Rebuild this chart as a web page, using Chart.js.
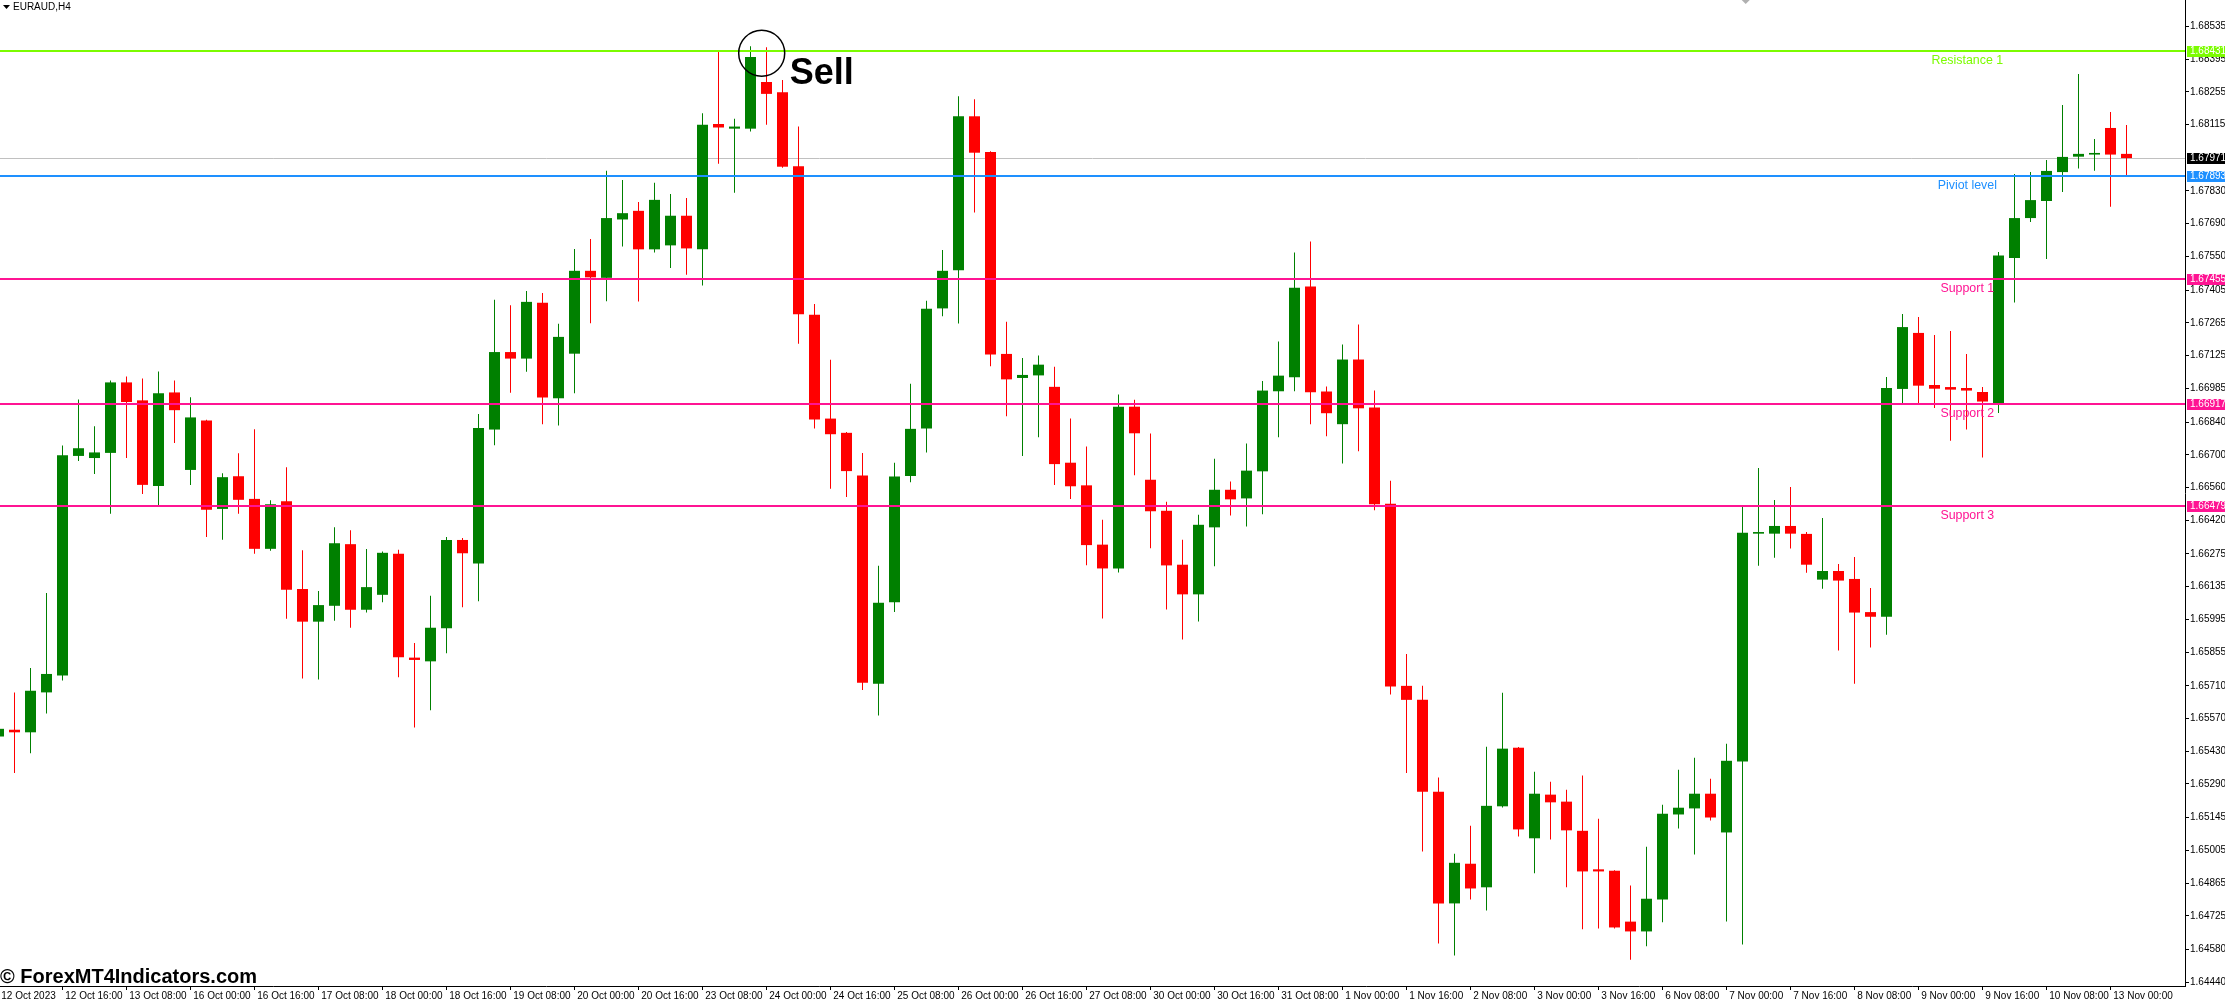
<!DOCTYPE html>
<html>
<head>
<meta charset="utf-8">
<script src="https://cdn.jsdelivr.net/npm/chart.js@4.4.0/dist/chart.umd.min.js"></script>
<style>
  html, body { margin: 0; padding: 0; background: #fff; overflow: hidden; }
  canvas { display: block; }
</style>
</head>
<body>
<canvas id="chart" width="2225" height="1002"></canvas>
<script>
// EURAUD H4 candles, bar 0 = 12 Oct 2023 00:00
const openP = [
  1.65493, 1.65522, 1.65511, 1.65682, 1.65754, 1.66695, 1.66686, 1.66708, 1.67010, 1.66933,
  1.66566, 1.66967, 1.66635, 1.66847, 1.66468, 1.66608, 1.66511, 1.66297, 1.66501, 1.66125,
  1.65985, 1.66053, 1.66317, 1.66036, 1.66100, 1.66276, 1.65831, 1.65815, 1.65957, 1.66335,
  1.66234, 1.66808, 1.67140, 1.67112, 1.67351, 1.66942, 1.67133, 1.67488, 1.67458, 1.67708,
  1.67745, 1.67580, 1.67597, 1.67724, 1.67580, 1.68117, 1.68097, 1.68097, 1.68297, 1.68253,
  1.67936, 1.67300, 1.66855, 1.66794, 1.66611, 1.65719, 1.66068, 1.66609, 1.66813, 1.67327,
  1.67490, 1.68150, 1.67997, 1.67132, 1.67029, 1.67040, 1.66991, 1.66666, 1.66569, 1.66315,
  1.66213, 1.66906, 1.66593, 1.66460, 1.66229, 1.66102, 1.66389, 1.66550, 1.66513, 1.66629,
  1.66972, 1.67032, 1.67421, 1.66971, 1.66831, 1.67108, 1.66902, 1.66490, 1.65710, 1.65650,
  1.65256, 1.64778, 1.64948, 1.64847, 1.65194, 1.65445, 1.65057, 1.65244, 1.65214, 1.65089,
  1.64924, 1.64918, 1.64700, 1.64658, 1.64795, 1.65159, 1.65185, 1.65248, 1.65082, 1.65386,
  1.66362, 1.66362, 1.66395, 1.66361, 1.66165, 1.66202, 1.66168, 1.66026, 1.66006, 1.66982,
  1.67222, 1.66999, 1.66990, 1.66986, 1.66969, 1.66922, 1.67543, 1.67714, 1.67787, 1.67911,
  1.67977, 1.67986, 1.68100, 1.67989
];
const highP = [
  1.65543, 1.65682, 1.65787, 1.66108, 1.66740, 1.66937, 1.66822, 1.67018, 1.67035, 1.67027,
  1.67057, 1.67018, 1.66946, 1.66850, 1.66621, 1.66706, 1.66809, 1.66505, 1.66646, 1.66291,
  1.66116, 1.66390, 1.66377, 1.66296, 1.66286, 1.66293, 1.65894, 1.66096, 1.66348, 1.66343,
  1.66875, 1.67364, 1.67341, 1.67402, 1.67393, 1.67261, 1.67582, 1.67624, 1.67917, 1.67877,
  1.67783, 1.67865, 1.67817, 1.67800, 1.68163, 1.68425, 1.68139, 1.68450, 1.68446, 1.68305,
  1.68106, 1.67346, 1.67107, 1.66797, 1.66708, 1.66225, 1.66666, 1.67004, 1.67360, 1.67577,
  1.68236, 1.68223, 1.68000, 1.67270, 1.67115, 1.67125, 1.67077, 1.66855, 1.66735, 1.66422,
  1.66958, 1.66936, 1.66791, 1.66499, 1.66336, 1.66443, 1.66683, 1.66585, 1.66748, 1.67016,
  1.67185, 1.67566, 1.67614, 1.66992, 1.67172, 1.67258, 1.66975, 1.66589, 1.65847, 1.65710,
  1.65317, 1.64991, 1.65111, 1.65449, 1.65681, 1.65448, 1.65342, 1.65299, 1.65265, 1.65326,
  1.65141, 1.64920, 1.64855, 1.65021, 1.65201, 1.65351, 1.65402, 1.65312, 1.65462, 1.66476,
  1.66643, 1.66506, 1.66562, 1.66369, 1.66429, 1.66232, 1.66262, 1.66129, 1.67033, 1.67303,
  1.67290, 1.67213, 1.67230, 1.67132, 1.66990, 1.67569, 1.67903, 1.67911, 1.67963, 1.68198,
  1.68331, 1.68053, 1.68168, 1.68113
];
const lowP = [
  1.65472, 1.65337, 1.65421, 1.65592, 1.65733, 1.66673, 1.66618, 1.66447, 1.66686, 1.66532,
  1.66481, 1.66750, 1.66571, 1.66348, 1.66336, 1.66447, 1.66276, 1.66289, 1.65998, 1.65741,
  1.65737, 1.65989, 1.65959, 1.66024, 1.66068, 1.65747, 1.65532, 1.65605, 1.65850, 1.66047,
  1.66072, 1.66741, 1.66966, 1.67056, 1.66831, 1.66825, 1.66963, 1.67263, 1.67358, 1.67592,
  1.67357, 1.67567, 1.67500, 1.67471, 1.67425, 1.67947, 1.67822, 1.68085, 1.68114, 1.67930,
  1.67176, 1.66813, 1.66554, 1.66519, 1.65692, 1.65583, 1.66026, 1.66582, 1.66710, 1.67293,
  1.67262, 1.67738, 1.67079, 1.66865, 1.66695, 1.66775, 1.66571, 1.66510, 1.66227, 1.65999,
  1.66196, 1.66612, 1.66299, 1.66037, 1.65909, 1.65986, 1.66222, 1.66440, 1.66393, 1.66445,
  1.66775, 1.66972, 1.66831, 1.66779, 1.66663, 1.66715, 1.66462, 1.65673, 1.65337, 1.65000,
  1.64606, 1.64555, 1.64795, 1.64748, 1.65189, 1.65065, 1.64907, 1.65052, 1.64847, 1.64667,
  1.64671, 1.64671, 1.64537, 1.64594, 1.64697, 1.65099, 1.64988, 1.65133, 1.64701, 1.64602,
  1.66225, 1.66259, 1.66298, 1.66195, 1.66126, 1.65861, 1.65719, 1.65874, 1.65929, 1.66922,
  1.66922, 1.66900, 1.66760, 1.66808, 1.66688, 1.66879, 1.67352, 1.67697, 1.67539, 1.67826,
  1.67926, 1.67917, 1.67763, 1.67896
];
const closeP = [
  1.65526, 1.65511, 1.65689, 1.65761, 1.66698, 1.66728, 1.66710, 1.67010, 1.66926, 1.66571,
  1.66963, 1.66891, 1.66860, 1.66464, 1.66604, 1.66507, 1.66297, 1.66488, 1.66122, 1.65985,
  1.66056, 1.66321, 1.66036, 1.66133, 1.66280, 1.65833, 1.65821, 1.65959, 1.66335, 1.66278,
  1.66815, 1.67140, 1.67112, 1.67355, 1.66945, 1.67205, 1.67488, 1.67460, 1.67714, 1.67735,
  1.67580, 1.67792, 1.67724, 1.67584, 1.68114, 1.68102, 1.68106, 1.68404, 1.68246, 1.67934,
  1.67302, 1.66851, 1.66788, 1.66630, 1.65723, 1.66066, 1.66607, 1.66811, 1.67325, 1.67488,
  1.68150, 1.67994, 1.67130, 1.67023, 1.67042, 1.67086, 1.66660, 1.66565, 1.66313, 1.66213,
  1.66906, 1.66792, 1.66458, 1.66226, 1.66102, 1.66400, 1.66550, 1.66509, 1.66632, 1.66975,
  1.67039, 1.67416, 1.66968, 1.66878, 1.67108, 1.66899, 1.66488, 1.65707, 1.65650, 1.65256,
  1.64778, 1.64952, 1.64842, 1.65196, 1.65441, 1.65095, 1.65248, 1.65211, 1.65091, 1.64915,
  1.64915, 1.64675, 1.64658, 1.64798, 1.65162, 1.65188, 1.65248, 1.65146, 1.65389, 1.66366,
  1.66369, 1.66395, 1.66362, 1.66229, 1.66202, 1.66161, 1.66024, 1.66006, 1.66986, 1.67247,
  1.66996, 1.66983, 1.66979, 1.66975, 1.66928, 1.67554, 1.67714, 1.67791, 1.67916, 1.67976,
  1.67989, 1.67993, 1.67986, 1.67971
];

// time axis labels, one every 4 bars
const tickBars = [0, 4, 8, 12, 16, 20, 24, 28, 32, 36, 40, 44, 48, 52, 56, 60, 64,
  68, 72, 76, 80, 84, 88, 92, 96, 100, 104, 108, 112, 116, 120, 124, 128, 132];
const tickDates = ['12 Oct 2023', '12 Oct 16:00', '13 Oct 08:00', '16 Oct 00:00', '16 Oct 16:00',
  '17 Oct 08:00', '18 Oct 00:00', '18 Oct 16:00', '19 Oct 08:00', '20 Oct 00:00', '20 Oct 16:00',
  '23 Oct 08:00', '24 Oct 00:00', '24 Oct 16:00', '25 Oct 08:00', '26 Oct 00:00', '26 Oct 16:00',
  '27 Oct 08:00', '30 Oct 00:00', '30 Oct 16:00', '31 Oct 08:00', '1 Nov 00:00', '1 Nov 16:00',
  '2 Nov 08:00', '3 Nov 00:00', '3 Nov 16:00', '6 Nov 08:00', '7 Nov 00:00', '7 Nov 16:00',
  '8 Nov 08:00', '9 Nov 00:00', '9 Nov 16:00', '10 Nov 08:00', '13 Nov 00:00'];

const priceTicks = [1.68535, 1.68395, 1.68255, 1.68115, 1.67830, 1.67690, 1.67550, 1.67405,
  1.67265, 1.67125, 1.66985, 1.66840, 1.66700, 1.66560, 1.66420, 1.66275, 1.66135, 1.65995,
  1.65855, 1.65710, 1.65570, 1.65430, 1.65290, 1.65145, 1.65005, 1.64865, 1.64725, 1.64580,
  1.64440];

const levelNames = ['Resistance 1', 'Piviot level', 'Support 1', 'Support 2', 'Support 3'];
const levelValues = [1.68431, 1.67893, 1.67455, 1.66917, 1.66479];
const lastPrice = 1.67971;

const FONT = '"Liberation Sans", Arial, sans-serif';
const levelColors = ['#7cfc00', '#1e90ff', '#ff1493', '#ff1493', '#ff1493'];
const UP = '#008000', DOWN = '#ff0000';

const candleColor = openP.map((o, i) => closeP[i] >= o ? UP : DOWN);
const bodies = openP.map((o, i) => ({ x: i, y: [o, closeP[i]] }));
const wicks = lowP.map((l, i) => ({ x: i, y: [l, highP[i]] }));

const xMin = 0.09375;
const xMax = xMin + 2185 / 16;

function noPad(s) {
  s.paddingLeft = 0;
  s.paddingRight = 0;
  s.paddingTop = 0;
  s.paddingBottom = 0;
}

const overlay = {
  id: 'overlay',
  beforeDatasetsDraw(chart) {
    const { ctx, chartArea: a, scales: { y } } = chart;
    const py = Math.round(y.getPixelForValue(lastPrice)) + 0.5;
    ctx.save();
    ctx.strokeStyle = '#c0c0c0';
    ctx.lineWidth = 1;
    ctx.beginPath();
    ctx.moveTo(a.left, py);
    ctx.lineTo(a.right, py);
    ctx.stroke();
    ctx.restore();
  },
  afterDatasetsDraw(chart) {
    const { ctx, chartArea: a, scales: { x, y } } = chart;
    ctx.save();
    levelValues.forEach((v, i) => {
      const py = Math.round(y.getPixelForValue(v));
      ctx.fillStyle = levelColors[i];
      ctx.fillRect(a.left, py - 1, a.right - a.left, 2);
      ctx.font = '12.4px ' + FONT;
      ctx.textAlign = 'center';
      ctx.textBaseline = 'alphabetic';
      ctx.fillText(levelNames[i], x.getPixelForValue(123.05), py + 13);
    });

    // sell mark on the top candle
    const cx = x.getPixelForValue(47.7);
    const cy = y.getPixelForValue(1.68420);
    ctx.strokeStyle = '#000';
    ctx.lineWidth = 1.5;
    ctx.beginPath();
    ctx.arc(cx, cy, 23, 0, Math.PI * 2);
    ctx.stroke();
    ctx.fillStyle = '#000';
    ctx.font = 'bold 36px ' + FONT;
    ctx.textAlign = 'left';
    ctx.fillText('Sell', cx + 28, cy + 31);
    ctx.restore();
  },
  afterDraw(chart) {
    const { ctx, chartArea: a, scales: { x, y } } = chart;
    ctx.save();
    // price tags on the right scale
    const tags = levelValues.map((v, i) => [v, levelColors[i]]).concat([[lastPrice, '#000']]);
    ctx.font = '10px ' + FONT;
    ctx.textAlign = 'left';
    ctx.textBaseline = 'middle';
    tags.forEach(([v, c]) => {
      const py = Math.round(y.getPixelForValue(v));
      ctx.fillStyle = c;
      ctx.fillRect(a.right + 2, py - 5, chart.width - a.right - 2, 11);
      ctx.fillStyle = '#fff';
      ctx.fillText(v.toFixed(5), a.right + 5, py + 0.5);
    });

    // symbol title
    ctx.fillStyle = '#000';
    ctx.beginPath();
    ctx.moveTo(3, 5);
    ctx.lineTo(10, 5);
    ctx.lineTo(6.5, 9);
    ctx.closePath();
    ctx.fill();
    ctx.font = '10px ' + FONT;
    ctx.fillText('EURAUD,H4', 13, 7.5);

    // chart shift marker
    const sx = x.getPixelForValue(109.2);
    ctx.fillStyle = '#b0b0b0';
    ctx.beginPath();
    ctx.moveTo(sx - 4, 0);
    ctx.lineTo(sx + 4, 0);
    ctx.lineTo(sx, 4);
    ctx.closePath();
    ctx.fill();

    // watermark
    ctx.fillStyle = '#000';
    ctx.font = 'bold 20px ' + FONT;
    ctx.textBaseline = 'alphabetic';
    ctx.fillText('\u00a9 ForexMT4Indicators.com', 0, 983);
    ctx.restore();
  }
};

new Chart(document.getElementById('chart').getContext('2d'), {
  type: 'bar',
  data: {
    datasets: [{
      label: 'body',
      data: bodies,
      backgroundColor: candleColor,
      grouped: false,
      barPercentage: 1,
      categoryPercentage: 1,
      maxBarThickness: 11,
      borderWidth: 0,
      inflateAmount: 0
    }, {
      label: 'wick',
      data: wicks,
      backgroundColor: candleColor,
      grouped: false,
      barPercentage: 1,
      categoryPercentage: 1,
      maxBarThickness: 1,
      borderWidth: 0,
      inflateAmount: 0
    }]
  },
  options: {
    responsive: false,
    devicePixelRatio: 1,
    animation: false,
    layout: { padding: 0, autoPadding: false },
    plugins: { legend: { display: false }, tooltip: { enabled: false } },
    scales: {
      x: {
        type: 'linear',
        offset: false,
        min: xMin,
        max: xMax,
        afterBuildTicks: s => { s.ticks = tickBars.map(v => ({ value: v })); },
        afterFit: s => { s.height = 16; noPad(s); },
        grid: { offset: false, drawOnChartArea: false, color: '#000', tickLength: 4 },
        border: { color: '#000' },
        ticks: {
          autoSkip: false,
          maxRotation: 0,
          align: 'start',
          padding: 0,
          color: '#000',
          font: { family: FONT, size: 10 },
          callback: v => ' ' + tickDates[tickBars.indexOf(v)]
        }
      },
      y: {
        type: 'linear',
        position: 'right',
        min: 1.644242,
        max: 1.686482,
        afterBuildTicks: s => { s.ticks = priceTicks.map(v => ({ value: v })); },
        afterFit: s => { s.width = 40; noPad(s); },
        grid: { drawOnChartArea: false, color: '#000', tickLength: 4 },
        border: { color: '#000' },
        ticks: {
          padding: 1,
          color: '#000',
          font: { family: FONT, size: 10 },
          callback: v => v.toFixed(5)
        }
      }
    }
  },
  plugins: [overlay]
});
</script>
</body>
</html>
